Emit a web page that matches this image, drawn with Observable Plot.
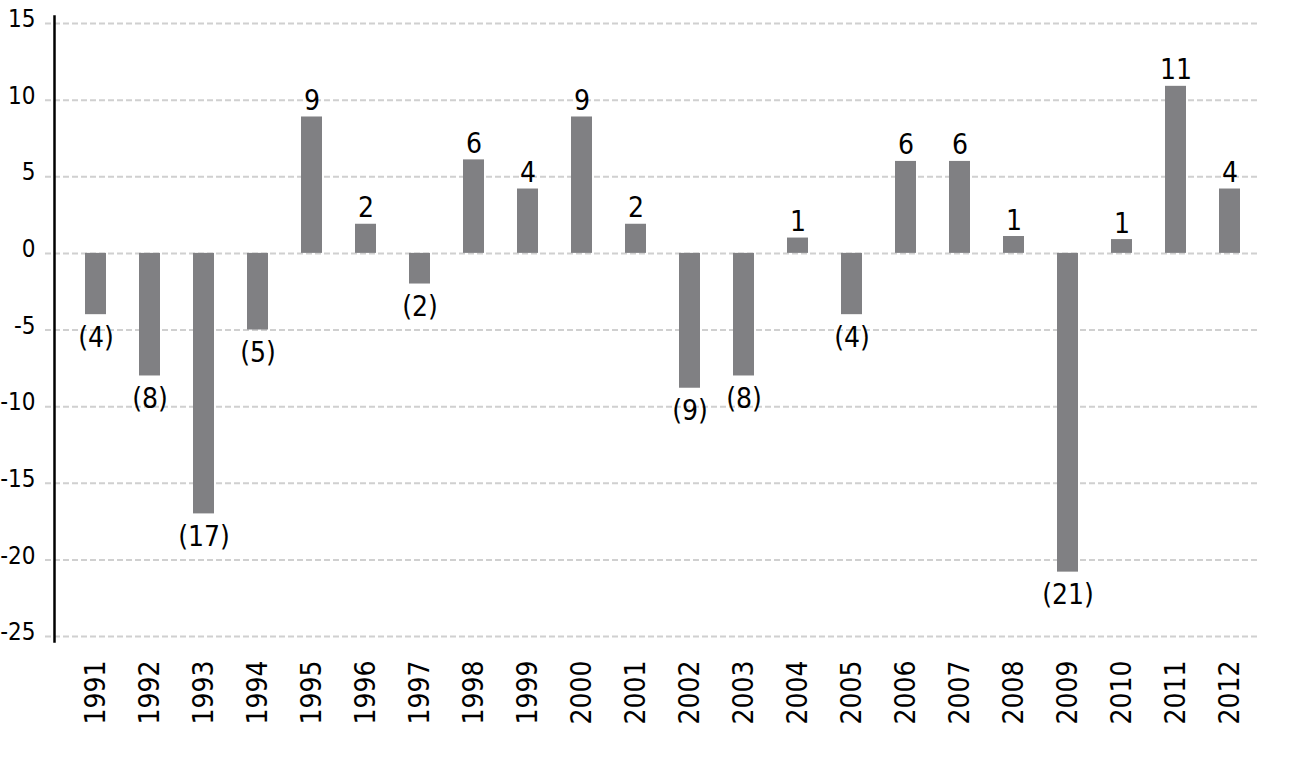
<!DOCTYPE html>
<html>
<head>
<meta charset="utf-8">
<script src="https://cdn.jsdelivr.net/npm/d3@7"></script>
<script src="https://cdn.jsdelivr.net/npm/@observablehq/plot@0.6"></script>
<style>
  html, body { margin: 0; padding: 0; background: #fff; }
  #chart svg { display: block; }
</style>
</head>
<body>
<div id="chart"></div>
<script>
const years = ["1991","1992","1993","1994","1995","1996","1997","1998","1999","2000","2001","2002","2003","2004","2005","2006","2007","2008","2009","2010","2011","2012"];
const values = [-4.0, -8.0, -17.0, -5.0, 8.9, 1.9, -2.0, 6.1, 4.2, 8.9, 1.9, -8.8, -8.0, 1.0, -4.0, 6.0, 6.0, 1.1, -20.8, 0.9, 10.9, 4.2];
const labels = ["(4)","(8)","(17)","(5)","9","2","(2)","6","4","9","2","(9)","(8)","1","(4)","6","6","1","(21)","1","11","4"];
const yTicks = [15, 10, 5, 0, -5, -10, -15, -20, -25];

const data = years.map((year, i) => ({year, value: values[i], label: labels[i]}));
const pos = data.filter(d => d.value >= 0);
const neg = data.filter(d => d.value < 0);

const font = "'Liberation Sans Narrow', 'DejaVu Sans Condensed', 'Roboto', sans-serif";

const chart = Plot.plot({
  width: 1301,
  height: 766,
  marginLeft: 54,
  marginRight: 43,
  marginTop: 23,
  marginBottom: 130,
  style: {fontFamily: font, fontSize: "28px", color: "#000", background: "#fff"},
  x: {domain: years, paddingInner: 0.611, paddingOuter: 0.447, align: 0.64, label: null},
  y: {domain: [-25, 15], label: null},
  marks: [
    Plot.ruleY(yTicks, {stroke: "#d0d0d0", strokeWidth: 2, strokeDasharray: "6,3", insetLeft: -9}),
    Plot.barY(data, {x: "year", y: "value", fill: "#808083"}),
    Plot.text(pos, {x: "year", y: "value", text: "label", lineAnchor: "bottom", dy: -7, fontSize: 28, fill: "#000"}),
    Plot.text(neg, {x: "year", y: "value", text: "label", lineAnchor: "top", dy: 12, fontSize: 28, fill: "#000"}),
    Plot.axisY({ticks: yTicks, tickSize: 0, tickPadding: 19, tickFormat: d => String(d), fontSize: 24, dy: -4, label: null}),
    Plot.axisX({tickRotate: -90, tickSize: 0, tickPadding: 24, fontSize: 28, label: null}),
    Plot.frame({anchor: "left", stroke: "#000", strokeWidth: 2.5, insetTop: -7, insetBottom: -5})
  ]
});
document.getElementById("chart").appendChild(chart);
</script>
</body>
</html>
